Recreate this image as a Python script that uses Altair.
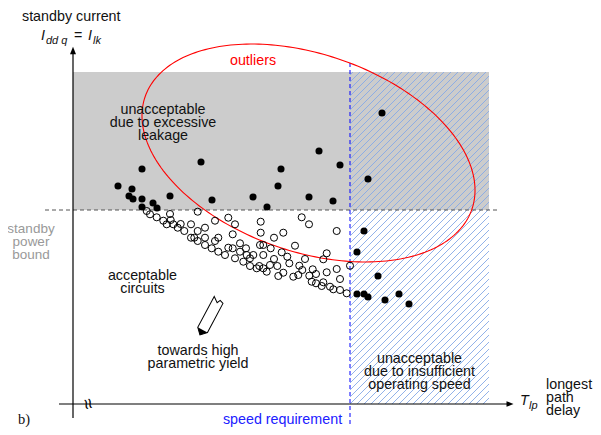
import altair as alt
import numpy as np
import pandas as pd

# ---------------- data (diagram units) -------------
filled_x = [142, 118, 132, 129, 133, 142, 170, 153, 157, 142, 201, 212, 253, 267, 278, 281,
            319, 309, 333, 340, 382, 368, 364, 357, 378, 357, 364, 368, 385, 399, 409]
filled_y = [169, 186, 189, 196, 199, 199, 196, 203, 208, 207, 162, 200, 197, 207, 186, 169,
            151, 197, 201, 165, 113, 179, 231, 252, 276, 294, 294, 297, 300, 294, 304]

open_pts = [(146.7, 211), (150, 214.3), (156.7, 217.3), (163.3, 220.7), (170, 214), (170.7, 220),
            (166.7, 224.3), (173.3, 224.3), (177.7, 227.7), (180.7, 224), (184.3, 231), (191, 224.3),
            (197.7, 211.7), (197.7, 231), (191, 237.7), (194.3, 237.7), (205, 227.7), (205, 237.7),
            (197.7, 241), (205, 245), (211.7, 248.3), (215, 241), (218.3, 237.7), (215, 220.7),
            (218.3, 251.7), (225, 255), (228.3, 247.7), (232.7, 234.3), (228.3, 217.7), (235, 224.3),
            (232.7, 248.3), (235, 258.3), (240, 243.3), (240, 251.7), (243.3, 261.7), (246, 248.3),
            (246.7, 255), (250, 258.3), (253.3, 255), (250, 266), (256.7, 268.3), (260.7, 221.7),
            (260.7, 232.7), (260, 245), (263.3, 245), (263.3, 255), (259.3, 266), (263.3, 268.3),
            (266.7, 271.7), (270, 265), (270.7, 248.3), (274, 237.7), (274, 259), (277.3, 266),
            (278.3, 276), (281.7, 252.3), (283.3, 232.7), (287.3, 256.7), (289.3, 263.3),
            (283.3, 272.7), (293.3, 276.7), (295, 245.7), (298.3, 275), (301.7, 217.3), (309, 224.3),
            (299.3, 265.7), (302.3, 270), (305, 259), (309.3, 275.7), (312.7, 269.3), (316, 274),
            (311.7, 281.7), (316, 283.3), (321.7, 286), (323.3, 259.3), (326.7, 253.3), (326.7, 272.3),
            (323.3, 282.3), (330, 286.7), (333.3, 289.3), (336.7, 269), (336.7, 231), (340, 290),
            (346.7, 293.3), (350, 265.7), (340, 279)]
open_x = [p[0] for p in open_pts]
open_y = [p[1] for p in open_pts]

leak_region = {"x": 73, "x2": 489, "y": 72, "y2": 210}
speed_region = {"x": 350, "x2": 489, "y": 72, "y2": 404}
standby_bound = 210
speed_requirement = 350

# outlier ellipse parameters
ell_cx, ell_cy, ell_a, ell_b, ell_rot = 308.5, 153, 172.8, 98.7, 19.0

# ---------------- scales (visible canvas 585 x 419) -------------
W, H = 585, 419
xs = alt.Scale(domain=[8, 593], range=[0, W], nice=False, zero=False)
ys = alt.Scale(domain=[8, 427], reverse=True, nice=False, zero=False)


def X(f="x"):
    return alt.X(f + ":Q", scale=xs, axis=None)


def Y(f="y"):
    return alt.Y(f + ":Q", scale=ys, axis=None)


SANS = "Liberation Sans"

gray = alt.Chart(pd.DataFrame([leak_region])).mark_rect(color="#cccccc").encode(
    x=X(), x2="x2:Q", y=Y(), y2="y2:Q")

segs = []
sx0, sx1, sy0, sy1 = speed_region["x"], speed_region["x2"], speed_region["y"], speed_region["y2"]
for c in np.arange(sx0 + sy0 + 3, sx1 + sy1, 7.0):
    xa = max(sx0, c - sy1)
    xb = min(sx1, c - sy0)
    if xb > xa:
        segs.append({"x": xa, "y": c - xa, "x2": xb, "y2": c - xb})
hatch = alt.Chart(pd.DataFrame(segs)).mark_rule(color="#86a9e6", strokeWidth=0.9).encode(
    x=X(), y=Y(), x2="x2:Q", y2="y2:Q")

hline = alt.Chart(pd.DataFrame([{"x": 45, "x2": 500, "y": standby_bound}])).mark_rule(
    color="#555555", strokeDash=[4, 3], strokeWidth=1).encode(x=X(), x2="x2:Q", y=Y())

vline = alt.Chart(pd.DataFrame([{"x": speed_requirement, "y": 63, "y2": 427}])).mark_rule(
    color="#0000ff", strokeDash=[4, 3], strokeWidth=1).encode(x=X(), y=Y(), y2="y2:Q")

axes_df = pd.DataFrame([{"x": 73, "x2": 73, "y": 53, "y2": 418},
                        {"x": 59, "x2": 508, "y": 404, "y2": 404}])
axes = alt.Chart(axes_df).mark_rule(color="black", strokeWidth=1.2).encode(
    x=X(), x2="x2:Q", y=Y(), y2="y2:Q")

arrow_up = alt.Chart(pd.DataFrame([{"x": 73, "y": 50.5}])).mark_point(
    shape="M0,-1L0.8,1L-0.8,1Z", filled=True, color="black", size=56, opacity=1).encode(x=X(), y=Y())
arrow_right = alt.Chart(pd.DataFrame([{"x": 510, "y": 404}])).mark_point(
    shape="M1,0L-1,0.8L-1,-0.8Z", filled=True, color="black", size=49, opacity=1).encode(x=X(), y=Y())

brk = alt.Chart(pd.DataFrame([{"x": 88, "y": 404, "t": "≈"}])).mark_text(
    angle=75, fontSize=19, align="center", baseline="middle", font=SANS, color="black").encode(
    x=X(), y=Y(), text="t:N")

t = np.linspace(0, 2 * np.pi, 241)
th = np.radians(ell_rot)
ell = pd.DataFrame({
    "x": ell_cx + ell_a * np.cos(t) * np.cos(th) - ell_b * np.sin(t) * np.sin(th),
    "y": ell_cy + ell_a * np.cos(t) * np.sin(th) + ell_b * np.sin(t) * np.cos(th),
    "o": np.arange(len(t))})
ellipse = alt.Chart(ell).mark_line(color="#ff0000", strokeWidth=1.1).encode(
    x=X(), y=Y(), order="o:Q")

opens = alt.Chart(pd.DataFrame({"x": open_x, "y": open_y})).mark_point(
    shape="circle", filled=False, color="black", size=50, strokeWidth=1, opacity=1).encode(x=X(), y=Y())
fills = alt.Chart(pd.DataFrame({"x": filled_x, "y": filled_y})).mark_point(
    shape="circle", filled=True, color="black", size=50, opacity=1).encode(x=X(), y=Y())

pen_df = pd.DataFrame([{"x": 209.5, "y": 317}])
pencil_body = alt.Chart(pen_df).mark_point(
    shape="M-0.27,-1L-0.27,0.72L0,1L0.27,0.72L0.27,-0.9L0.08,-0.97L0,-0.8Z",
    filled=True, fill="white", stroke="black", strokeWidth=1, size=1660, angle=28, opacity=1).encode(
    x=X(), y=Y())
pencil_tip = alt.Chart(pen_df).mark_point(
    shape="M-0.27,0.72L0,1L0.27,0.72Z", filled=True, color="black", size=1660, angle=28,
    opacity=1).encode(x=X(), y=Y())


def texts(rows, **kw):
    base = dict(font=SANS, fontSize=14.3, baseline="alphabetic", lineBreak="\n", lineHeight=13.2,
                color="#111111")
    base.update(kw)
    return alt.Chart(pd.DataFrame(rows)).mark_text(**base).encode(x=X(), y=Y(), text="t:N")


labels_left = texts([
    {"x": 22, "y": 21, "t": "standby current"},
    {"x": 546, "y": 389, "t": "longest\npath\ndelay"},
], align="left")
labels_center = texts([
    {"x": 163, "y": 114, "t": "unacceptable\ndue to excessive\nleakage"},
    {"x": 142.5, "y": 280, "t": "acceptable\ncircuits"},
    {"x": 198, "y": 355, "t": "towards high\nparametric yield"},
    {"x": 419.5, "y": 363, "t": "unacceptable\ndue to insufficient\noperating speed"},
], align="center")
label_bound = texts([{"x": 31, "y": 233, "t": "standby\npower\nbound"}], align="center",
                    color="#999999", fontSize=13.5)
label_outliers = texts([{"x": 253, "y": 65, "t": "outliers"}], align="center", color="#ff0000")
label_speed = texts([{"x": 282.5, "y": 424, "t": "speed requirement"}], align="center", color="#2020ff")
label_b = texts([{"x": 18, "y": 424, "t": "b)"}], align="left", font="Liberation Serif", fontSize=14.5)

math_big = texts([
    {"x": 41, "y": 40, "t": "I"},
    {"x": 88, "y": 40, "t": "I"},
    {"x": 520, "y": 405, "t": "T"},
], align="left", fontStyle="italic")
math_eq = texts([{"x": 74, "y": 40, "t": "="}], align="left")
math_sub = texts([
    {"x": 46, "y": 44, "t": "dd q"},
    {"x": 93, "y": 44, "t": "lk"},
    {"x": 529, "y": 409, "t": "lp"},
], align="left", fontStyle="italic", fontSize=11)

chart = alt.layer(
    gray, hatch, hline, vline, axes, arrow_up, arrow_right, brk, ellipse, opens, fills,
    pencil_body, pencil_tip, labels_left, labels_center, label_bound, label_outliers,
    label_speed, label_b, math_big, math_eq, math_sub
).properties(width=W, height=H, padding=0, autosize=alt.AutoSizeParams(type="none")
).configure_view(stroke=None)

chart.save("out.html", embed_options={"renderer": "svg", "actions": False})
